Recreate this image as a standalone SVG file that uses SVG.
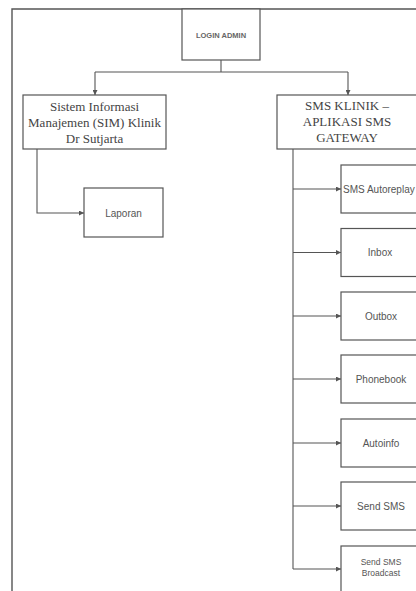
<svg xmlns="http://www.w3.org/2000/svg" width="416" height="591" viewBox="0 0 416 591">
  <style>
    .box { fill: #ffffff; stroke: #555555; stroke-width: 1.2; }
    .frame { fill: none; stroke: #555555; stroke-width: 1.4; }
    .wire { fill: none; stroke: #555555; stroke-width: 1.1; marker-end: url(#arrow); }
    .plain { fill: none; stroke: #555555; stroke-width: 1.1; }
    .serif { font-family: "Liberation Serif", "Times New Roman", serif; font-size: 13px; fill: #444444; text-anchor: middle; }
    .sans { font-family: "Liberation Sans", Arial, sans-serif; font-size: 10px; fill: #555555; text-anchor: middle; }
    .tiny { font-family: "Liberation Sans", Arial, sans-serif; font-size: 7.5px; font-weight: bold; fill: #666666; text-anchor: middle; }
  </style>
  <defs>
    <marker id="arrow" viewBox="0 0 6 6" refX="6" refY="3" markerWidth="5" markerHeight="5" markerUnits="userSpaceOnUse" orient="auto">
      <path d="M0,0 L6,3 L0,6 Z" fill="#555555"/>
    </marker>
  </defs>
  <rect width="416" height="591" fill="#ffffff"/>

  <!-- page frame -->
  <path class="frame" d="M12,591 V9 H416"/>

  <!-- connectors -->
  <g id="connectors">
    <path class="plain" d="M221,60 V72 M95,72 H348"/>
    <path class="wire" d="M95,72 V95"/>
    <path class="wire" d="M348,72 V95"/>
    <path class="wire" d="M37,149 V213 H84"/>
    <path class="plain" d="M293,149 V569"/>
    <path class="wire" d="M293,189 H341"/>
    <path class="wire" d="M293,252.5 H341"/>
    <path class="wire" d="M293,316 H341"/>
    <path class="wire" d="M293,379 H341"/>
    <path class="wire" d="M293,443 H341"/>
    <path class="wire" d="M293,506 H341"/>
    <path class="wire" d="M293,569 H341"/>
  </g>

  <g id="login-admin">
    <rect class="box" x="182" y="9" width="78" height="51"/>
    <text class="tiny" x="221" y="37.5">LOGIN ADMIN</text>
  </g>

  <g id="sim-klinik">
    <rect class="box" x="23" y="95" width="143" height="54"/>
    <text class="serif" x="94.5" y="111">Sistem Informasi</text>
    <text class="serif" x="94.5" y="127">Manajemen (SIM) Klinik</text>
    <text class="serif" x="94.5" y="143">Dr Sutjarta</text>
  </g>

  <g id="sms-klinik">
    <rect class="box" x="277" y="95" width="142" height="54"/>
    <text class="serif" x="347" y="110">SMS KLINIK –</text>
    <text class="serif" x="347" y="126">APLIKASI SMS</text>
    <text class="serif" x="347" y="142">GATEWAY</text>
  </g>

  <g id="laporan">
    <rect class="box" x="84" y="188" width="79" height="49"/>
    <text class="sans" x="123.5" y="216.5">Laporan</text>
  </g>

  <g id="sms-autoreplay">
    <rect class="box" x="341" y="165" width="80" height="48"/>
    <text class="sans" x="343" y="192.5" style="text-anchor:start">SMS Autoreplay</text>
  </g>

  <g id="inbox">
    <rect class="box" x="341" y="228.5" width="80" height="48"/>
    <text class="sans" x="380" y="256">Inbox</text>
  </g>

  <g id="outbox">
    <rect class="box" x="341" y="292" width="80" height="48"/>
    <text class="sans" x="381" y="319.5">Outbox</text>
  </g>

  <g id="phonebook">
    <rect class="box" x="341" y="355" width="80" height="48"/>
    <text class="sans" x="381" y="382.5">Phonebook</text>
  </g>

  <g id="autoinfo">
    <rect class="box" x="341" y="419" width="80" height="48"/>
    <text class="sans" x="381" y="446.5">Autoinfo</text>
  </g>

  <g id="send-sms">
    <rect class="box" x="341" y="482" width="80" height="48"/>
    <text class="sans" x="381" y="509.5">Send SMS</text>
  </g>

  <g id="sms-broadcast">
    <rect class="box" x="341" y="546" width="80" height="48"/>
    <text class="sans" x="381" y="565" style="font-size:8.5px">Send SMS</text>
    <text class="sans" x="381" y="576" style="font-size:8.5px">Broadcast</text>
  </g>
</svg>
